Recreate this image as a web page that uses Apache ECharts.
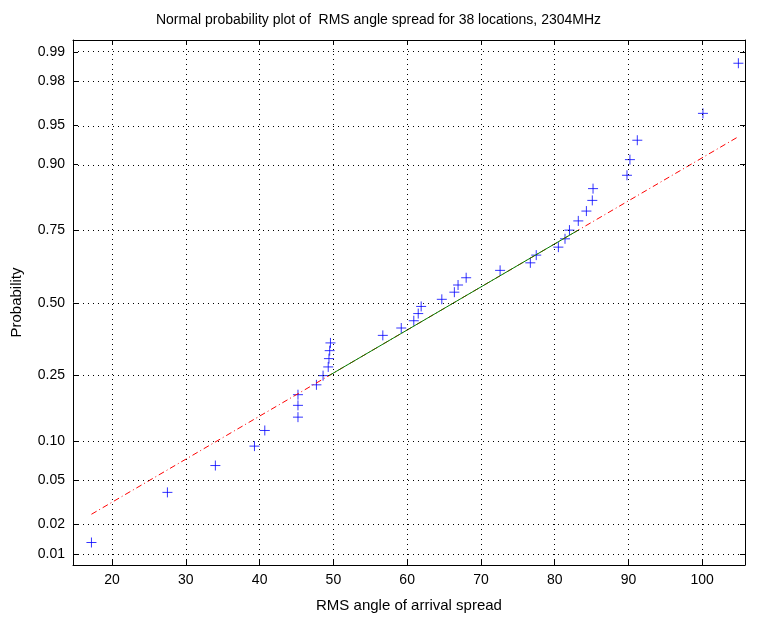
<!DOCTYPE html>
<html><head><meta charset="utf-8">
<script src="https://cdn.jsdelivr.net/npm/echarts@6/dist/echarts.min.js"></script>
<style>html,body{margin:0;padding:0;background:#fff}#c{width:757px;height:618px}</style>
</head><body><div id="c"></div>
<script>
var angleSpread = [17.2,27.5,34.0,39.3,40.7,45.2,45.2,45.2,47.7,48.6,49.3,49.4,49.5,49.6,56.7,59.2,60.9,61.5,61.9,64.7,66.4,66.9,68.0,72.6,76.7,77.5,80.5,81.4,82.0,83.2,84.3,85.1,85.2,89.8,90.2,91.2,100.1,104.9];
var quartileAnchors = [49.4, 83.2];
var probTicks = [0.01,0.02,0.05,0.10,0.25,0.50,0.75,0.90,0.95,0.98,0.99];
var probLabels = ['0.01','0.02','0.05','0.10','0.25','0.50','0.75','0.90','0.95','0.98','0.99'];
var xTicks = [20,30,40,50,60,70,80,90,100];

function norminv(p){
  var a=[-3.969683028665376e+01,2.209460984245205e+02,-2.759285104469687e+02,1.383577518672690e+02,-3.066479806614716e+01,2.506628277459239e+00];
  var b=[-5.447609879822406e+01,1.615858368580409e+02,-1.556989798598866e+02,6.680131188771972e+01,-1.328068155288572e+01];
  var c=[-7.784894002430293e-03,-3.223964580411365e-01,-2.400758277161838e+00,-2.549732539343734e+00,4.374664141464968e+00,2.938163982698783e+00];
  var d=[7.784695709041462e-03,3.224671290700398e-01,2.445134137142996e+00,3.754408661907416e+00];
  var pl=0.02425,q,r;
  if(p<pl){q=Math.sqrt(-2*Math.log(p));return (((((c[0]*q+c[1])*q+c[2])*q+c[3])*q+c[4])*q+c[5])/((((d[0]*q+d[1])*q+d[2])*q+d[3])*q+1);}
  if(p<=1-pl){q=p-0.5;r=q*q;return (((((a[0]*r+a[1])*r+a[2])*r+a[3])*r+a[4])*r+a[5])*q/(((((b[0]*r+b[1])*r+b[2])*r+b[3])*r+b[4])*r+1);}
  q=Math.sqrt(-2*Math.log(1-p));return -(((((c[0]*q+c[1])*q+c[2])*q+c[3])*q+c[4])*q+c[5])/((((d[0]*q+d[1])*q+d[2])*q+d[3])*q+1);
}
var n = angleSpread.length;
var pts = angleSpread.map(function(x,i){return [x, norminv((i+0.5)/n)];});
var zq = norminv(0.75);
var slope = 2*zq/(quartileAnchors[1]-quartileAnchors[0]);
function fz(x){return -zq + (x-quartileAnchors[0])*slope;}
var xmin = angleSpread[0], xmax = angleSpread[n-1];
var zTicks = probTicks.map(norminv);
function lab(v){var best=0;for(var i=0;i<zTicks.length;i++){if(Math.abs(zTicks[i]-v)<Math.abs(zTicks[best]-v))best=i;}return probLabels[best];}

var font = 'Liberation Sans, Arial, sans-serif';
var gridLines = [];
zTicks.forEach(function(z){gridLines.push({yAxis:z});});
xTicks.forEach(function(x){gridLines.push({xAxis:x});});

var chart = echarts.init(document.getElementById('c'));
var axisCommon = {axisLine:{show:true,onZero:false,lineStyle:{color:'#000',width:1}}, splitLine:{show:false}};
chart.setOption({
  animation:false,
  title:{text:'Normal probability plot of  RMS angle spread for 38 locations, 2304MHz', left:'center', top:8, textStyle:{fontSize:14, fontWeight:'normal', color:'#000', fontFamily:font}},
  grid:{left:73, right:12, top:40, bottom:52},
  xAxis:[
    Object.assign({type:'value', min:14.7, max:105.8, position:'bottom', name:'RMS angle of arrival spread', nameLocation:'middle', nameGap:33,
      nameTextStyle:{fontSize:15,color:'#000',fontFamily:font},
      axisTick:{inside:true,length:5,customValues:xTicks,lineStyle:{color:'#000'}},
      axisLabel:{customValues:xTicks,fontSize:14,color:'#000',fontFamily:font,margin:8}},axisCommon),
    Object.assign({type:'value', min:14.7, max:105.8, position:'top',
      axisTick:{inside:true,length:5,customValues:xTicks,lineStyle:{color:'#000'}},
      axisLabel:{show:false}},axisCommon)
  ],
  yAxis:[
    Object.assign({type:'value', min:-2.43, max:2.437, position:'left', name:'Probability', nameLocation:'middle', nameGap:49,
      nameTextStyle:{fontSize:15,color:'#000',fontFamily:font},
      axisTick:{inside:true,length:5,customValues:zTicks,lineStyle:{color:'#000'}},
      axisLabel:{customValues:zTicks,formatter:lab,fontSize:14,color:'#000',fontFamily:font,margin:8}},axisCommon),
    Object.assign({type:'value', min:-2.43, max:2.437, position:'right',
      axisTick:{inside:true,length:5,customValues:zTicks,lineStyle:{color:'#000'}},
      axisLabel:{show:false}},axisCommon)
  ],
  series:[
    {type:'line', data:[], markLine:{silent:true, symbol:'none', label:{show:false},
      lineStyle:{type:[1,4],color:'#000',width:1}, data:gridLines}},
    {type:'line', data:[[xmin,fz(xmin)],[xmax,fz(xmax)]], symbol:'none',
      lineStyle:{color:'#ff0000',width:1,type:[6,3,1,3]}},
    {type:'line', data:[[quartileAnchors[0],-zq],[quartileAnchors[1],zq]], symbol:'none',
      lineStyle:{color:'#008000',width:1}},
    {type:'scatter', data:pts, symbol:'path://M0,5L10,5M5,0L5,10', symbolSize:10,
      itemStyle:{color:'none',borderColor:'#0000ff',borderWidth:1}}
  ]
});
</script></body></html>
